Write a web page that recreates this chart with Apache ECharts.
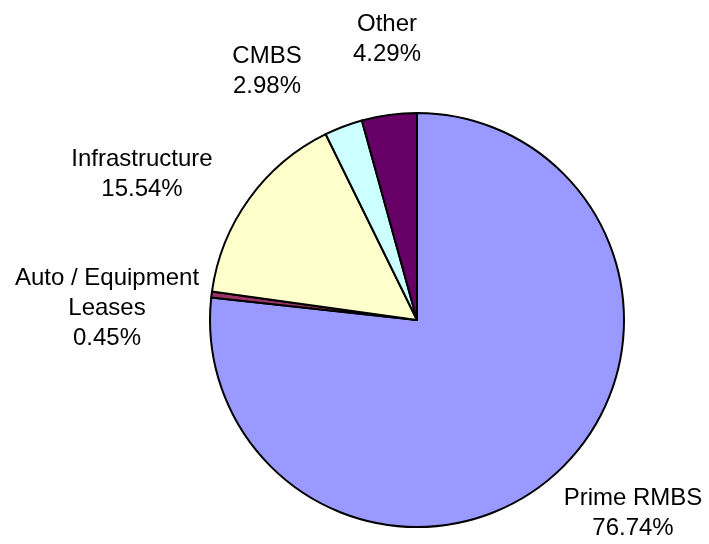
<!DOCTYPE html>
<html>
<head>
<meta charset="utf-8">
<script src="https://cdn.jsdelivr.net/npm/echarts@6/dist/echarts.min.js"></script>
<style>
html,body{margin:0;padding:0;background:#fff;}
#c{width:709px;height:544px;}
</style>
</head>
<body>
<div id="c"></div>
<script>
const categories = ["Prime RMBS", "Auto / Equipment\nLeases", "Infrastructure", "CMBS", "Other"];
const values = [76.74, 0.45, 15.54, 2.98, 4.29];
const colors = ["#9999FF", "#993366", "#FFFFCC", "#CCFFFF", "#660066"];
const labelPos = [[633, 513], [107, 308], [142, 174], [267, 71], [387, 39]];

const chart = echarts.init(document.getElementById('c'), null, {renderer: 'canvas'});
chart.setOption({
  backgroundColor: '#ffffff',
  animation: false,
  series: [{
    type: 'pie',
    center: [417, 320],
    radius: [0, 207],
    startAngle: 90,
    clockwise: true,
    percentPrecision: 2,
    data: categories.map((c, i) => ({name: c, value: values[i], itemStyle: {color: colors[i]}})),
    itemStyle: {borderColor: '#000', borderWidth: 2},
    label: {
      show: true,
      formatter: p => p.name + '\n' + p.value.toFixed(2) + '%',
      fontFamily: 'Liberation Sans, Arial, sans-serif',
      fontSize: 24,
      lineHeight: 30,
      color: '#000',
      align: 'center',
      overflow: 'none',
      width: 400
    },
    labelLine: {show: false},
    labelLayout: params => ({
      x: labelPos[params.dataIndex][0],
      y: labelPos[params.dataIndex][1],
      align: 'center',
      verticalAlign: 'middle'
    }),
    emphasis: {disabled: true}
  }]
});
</script>
</body>
</html>
